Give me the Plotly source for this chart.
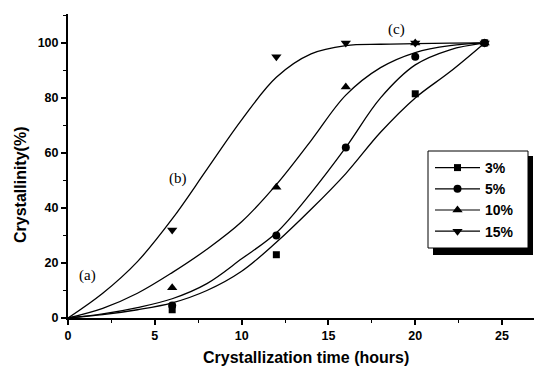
import plotly.graph_objects as go

# ---- data ----
series_names = ["3%", "5%", "10%", "15%"]
symbols = ["square", "circle", "triangle-up", "triangle-down"]

# measured points
x_3 = [6, 12, 20, 24]
y_3 = [3, 23, 81.5, 100]
x_5 = [6, 12, 16, 20, 24]
y_5 = [4.5, 30, 62, 95, 100]
x_10 = [6, 12, 16, 20, 24]
y_10 = [11, 47.5, 84, 100, 100]
x_15 = [6, 12, 16, 20, 24]
y_15 = [32, 95, 100, 100, 100]

# fitted curves
curve_x = [0, 2, 4, 6, 8, 10, 12, 14, 16, 18, 20, 22, 24]
curve_3 = [0, 1.2, 3, 5.5, 10, 17, 27.5, 39.5, 52.5, 67.5, 80, 89.5, 100]
curve_5 = [0, 1.5, 3.8, 7, 12.5, 21.5, 31, 45.5, 62, 80, 92, 97.5, 100]
curve_10 = [0, 3.5, 9, 16.5, 25, 35, 48.5, 64.5, 81, 91, 96.5, 99, 100]
curve_15 = [0, 9, 20.5, 36, 54, 72, 87.5, 96, 99, 99.5, 99.7, 99.9, 100]

x_ticks = [0, 5, 10, 15, 20, 25]
y_ticks = [0, 20, 40, 60, 80, 100]

point_x = [x_3, x_5, x_10, x_15]
point_y = [y_3, y_5, y_10, y_15]
curves = [curve_3, curve_5, curve_10, curve_15]
marker_sizes = [7, 8, 9, 9]

fig = go.Figure()
for cy in curves:
    fig.add_trace(go.Scatter(x=curve_x, y=cy, mode="lines",
                             line=dict(color="black", width=1.3, shape="spline", smoothing=1.0),
                             showlegend=False, hoverinfo="skip"))
for px_, py_, sym, ms in zip(point_x, point_y, symbols, marker_sizes):
    fig.add_trace(go.Scatter(x=px_, y=py_, mode="markers",
                             marker=dict(symbol=sym, size=ms, color="black"),
                             showlegend=False))
for name, sym, ms in zip(series_names, symbols, marker_sizes):
    fig.add_trace(go.Scatter(x=[None], y=[None], mode="lines+markers", name=name,
                             line=dict(color="black", width=1.2),
                             marker=dict(symbol=sym, size=ms, color="black")))

axis_font = dict(family="Liberation Sans", size=12.5, color="black", weight="bold")
title_font = dict(family="Liberation Sans", size=16, color="black", weight="bold")

common = dict(showline=True, linecolor="black", linewidth=2, mirror=False,
              ticks="outside", ticklen=5, tickwidth=1.5, tickcolor="black",
              tickfont=axis_font, showgrid=False, zeroline=False, automargin=False)
fig.update_xaxes(range=[0, 27.3], tickvals=x_ticks, **common,
                 minor=dict(dtick=2.5, tick0=0, ticks="outside", ticklen=3, tickcolor="black", tickwidth=1))
fig.update_yaxes(range=[0, 110.5], tickvals=y_ticks, **common,
                 minor=dict(dtick=10, tick0=0, ticks="outside", ticklen=3, tickcolor="black", tickwidth=1))

# page has an 8px body margin; plot area spans page px x 68..542, y 14..318
def px(xp):
    return (xp - 68) / 474

def py(yp):
    return (318 - yp) / 304

# axis titles
fig.add_annotation(xref="paper", yref="paper", x=px(306), y=py(357),
                   text="Crystallization time (hours)", showarrow=False, font=title_font,
                   xanchor="center", yanchor="middle")
fig.add_annotation(xref="paper", yref="paper", x=px(20), y=py(185),
                   text="Crystallinity(%)", showarrow=False, font=title_font, textangle=-90,
                   xanchor="center", yanchor="middle")

# legend frame with drop shadow (right band + bottom band)
fig.add_shape(type="rect", xref="paper", yref="paper", x0=px(428), x1=px(528), y0=py(248), y1=py(151),
              fillcolor="white", line=dict(color="black", width=1), layer="above")
fig.add_shape(type="rect", xref="paper", yref="paper", x0=px(528), x1=px(533), y0=py(255), y1=py(156),
              fillcolor="black", line=dict(width=0), layer="above")
fig.add_shape(type="rect", xref="paper", yref="paper", x0=px(433), x1=px(533), y0=py(255), y1=py(248),
              fillcolor="black", line=dict(width=0), layer="above")

ann_font = dict(family="Liberation Serif", size=15, color="black")
fig.add_annotation(x=1.1, y=15.6, text="(a)", showarrow=False, font=ann_font)
fig.add_annotation(x=6.36, y=50.7, text="(b)", showarrow=False, font=ann_font)
fig.add_annotation(x=18.94, y=104.9, text="(c)", showarrow=False, font=ann_font)

fig.update_layout(
    width=534, height=361,
    margin=dict(l=60, r=0, t=6, b=51),
    plot_bgcolor="white", paper_bgcolor="white",
    legend=dict(x=px(430), y=py(152), xanchor="left", yanchor="top",
                bgcolor="rgba(0,0,0,0)", borderwidth=0,
                font=dict(family="Liberation Sans", size=14, color="black", weight="bold"),
                tracegroupgap=0, itemwidth=45),
)

fig.write_html("out.html",
               post_script="document.documentElement.style.overflow='hidden';document.body.style.overflow='hidden';")
